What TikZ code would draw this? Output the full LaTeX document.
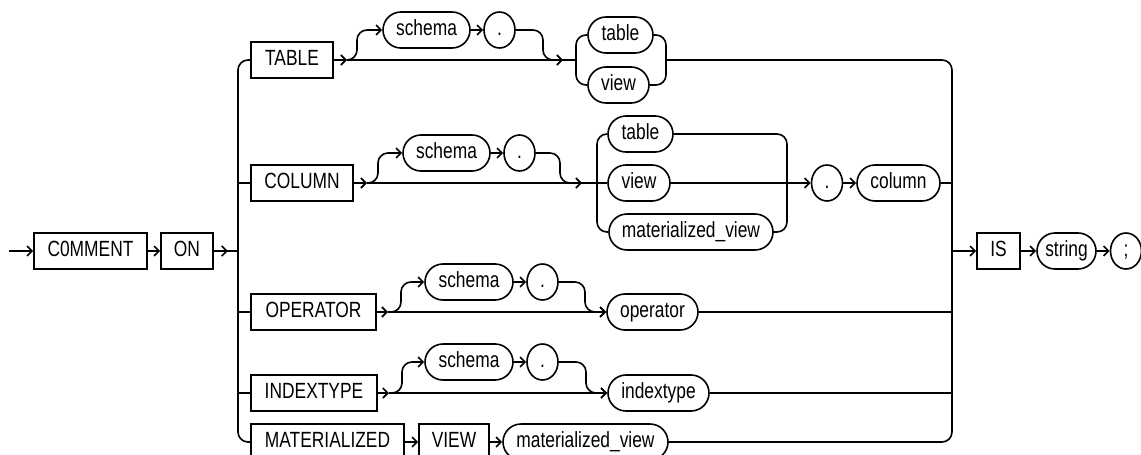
\documentclass[tikz,border=0pt]{standalone}
\usepackage{fontspec}
\setmainfont{Liberation Sans}[FakeStretch=0.79]
\usetikzlibrary{arrows.meta,shapes.misc,shapes.geometric}
\begin{document}
\begin{tikzpicture}[x=1pt,y=-1pt,
  line width=1.6pt,
  every node/.style={font=\fontsize{22}{25}\selectfont, inner sep=0pt, minimum height=36pt, line width=1.6pt, text height=15.5pt, text depth=4.5pt},
  kw/.style={draw, rectangle, minimum width=#1},
  nt/.style={draw, rounded rectangle, minimum width=#1},
  dotn/.style={draw, ellipse, minimum width=31pt},
  arr/.style={-{Straight Barb[length=5pt,width=10pt]}},
  rc/.style={rounded corners=10pt}]
\useasboundingbox (0,0) rectangle (1141,455);

% main keywords
\node[kw=113pt] (comment) at (90.5,251) {C0MMENT};
\node[kw=52pt] (on) at (187,251) {ON};
\node[kw=82pt] (table) at (292,60) {TABLE};
\node[kw=102pt] (column) at (302,183) {COLUMN};
\node[kw=125pt] (operator) at (313.5,312) {OPERATOR};
\node[kw=126pt] (indextype) at (314,393) {INDEXTYPE};
\node[kw=153pt] (mat) at (327.5,442) {MATERIALIZED};
\node[kw=70pt] (view) at (454,442) {VIEW};
\node[nt=165pt] (mvC) at (585.5,442) {materialized\_view};

% TABLE row
\node[nt=87pt] (schA) at (426.5,30) {schema};
\node[dotn] (dotA) at (499.5,30) {.};
\node[nt=65pt] (tabA) at (620.5,35) {table};
\node[nt=61pt] (viewA) at (618.5,85) {view};

% COLUMN row
\node[nt=87pt] (schB) at (446.5,153) {schema};
\node[dotn] (dotB) at (519.5,153) {.};
\node[nt=65pt] (tabB) at (640.5,134) {table};
\node[nt=62pt] (viewB) at (639,183) {view};
\node[nt=164pt] (mvB) at (691,232) {materialized\_view};
\node[dotn] (dotC) at (827,183) {.};
\node[nt=83pt] (col) at (898.5,183) {column};

% OPERATOR row
\node[nt=88pt] (schD) at (469,282) {schema};
\node[dotn] (dotD) at (542.5,282) {.};
\node[nt=91pt] (opn) at (652.5,312) {operator};

% INDEXTYPE row
\node[nt=88pt] (schE) at (469,362) {schema};
\node[dotn] (dotE) at (542.5,362) {.};
\node[nt=101pt] (itn) at (658.5,393) {indextype};

% tail
\node[kw=43pt] (is) at (998.5,251) {IS};
\node[nt=59pt] (str) at (1066.5,251) {string};
\node[dotn] (semi) at (1126,251) {;};

% coordinates
\coordinate (start) at (9,251);
\coordinate (Lt) at (238,60);
\coordinate (Lb) at (238,442);
\coordinate (L0) at (238,251);
\coordinate (L2) at (238,183);
\coordinate (L3) at (238,312);
\coordinate (L4) at (238,393);
\coordinate (Rt) at (952,60);
\coordinate (Rb) at (952,442);
\coordinate (R0) at (952,251);
\coordinate (R2) at (952,183);
\coordinate (R3) at (952,312);
\coordinate (R4) at (952,393);
\coordinate (bAl) at (576,60);
\coordinate (bAr) at (666,60);
\coordinate (bBl) at (597,183);
\coordinate (bBr) at (787,183);
\coordinate (jA) at (347,60);
\coordinate (kA) at (357,60);
\coordinate (mA) at (543,60);
\coordinate (nA) at (563,60);
\coordinate (jB) at (367,183);
\coordinate (kB) at (378,183);
\coordinate (mB) at (560,183);
\coordinate (nB) at (582,183);
\coordinate (jD) at (388,312);
\coordinate (kD) at (401,312);
\coordinate (mD) at (585,312);
\coordinate (jE) at (389,393);
\coordinate (kE) at (402,393);
\coordinate (mE) at (586,393);

% entry
\draw[arr] (start) -- (comment);
\draw[arr] (comment) -- (on);
\draw[arr] (on.east) -- ++(14,0);
\draw (on.east) -- (L0);

% left bus
\draw[rc] (table.west) -- (Lt) -- (Lb) -- (mat.west);
\draw (L2) -- (column.west);
\draw (L3) -- (operator.west);
\draw (L4) -- (indextype.west);

% TABLE row
\draw[arr] (table.east) -- (jA);
\draw (jA) -- (bAl);
\draw[arr,rc] (jA) -- (kA) |- (schA.west);
\draw[arr] (schA) -- (dotA);
\draw[arr,rc] (dotA.east) -| (mA) -- (nA);
\draw[rc] (bAl) |- (tabA.west);
\draw[rc] (bAl) |- (viewA.west);
\draw[rc] (tabA.east) -| (bAr);
\draw[rc] (viewA.east) -| (bAr);

% right bus
\draw[rc] (bAr) -- (Rt) -- (Rb) -- (mvC.east);

% COLUMN row
\draw[arr] (column.east) -- (jB);
\draw (jB) -- (viewB.west);
\draw[arr,rc] (jB) -- (kB) |- (schB.west);
\draw[arr] (schB) -- (dotB);
\draw[arr,rc] (dotB.east) -| (mB) -- (nB);
\draw[rc] (bBl) |- (tabB.west);
\draw[rc] (bBl) |- (mvB.west);
\draw[rc] (tabB.east) -| (bBr);
\draw[rc] (mvB.east) -| (bBr);
\draw[arr] (viewB) -- (dotC);
\draw[arr] (dotC) -- (col);
\draw (col) -- (R2);

% OPERATOR row
\draw[arr] (operator.east) -- (jD);
\draw[arr] (jD) -- (opn.west);
\draw[arr,rc] (jD) -- (kD) |- (schD.west);
\draw[arr] (schD) -- (dotD);
\draw[arr,rc] (dotD.east) -| (mD) -- (opn.west);
\draw (opn) -- (R3);

% INDEXTYPE row
\draw[arr] (indextype.east) -- (jE);
\draw[arr] (jE) -- (itn.west);
\draw[arr,rc] (jE) -- (kE) |- (schE.west);
\draw[arr] (schE) -- (dotE);
\draw[arr,rc] (dotE.east) -| (mE) -- (itn.west);
\draw (itn) -- (R4);

% MATERIALIZED row
\draw[arr] (mat) -- (view);
\draw[arr] (view) -- (mvC);

% tail
\draw[arr] (R0) -- (is);
\draw[arr] (is) -- (str);
\draw[arr] (str) -- (semi);
\end{tikzpicture}
\end{document}
